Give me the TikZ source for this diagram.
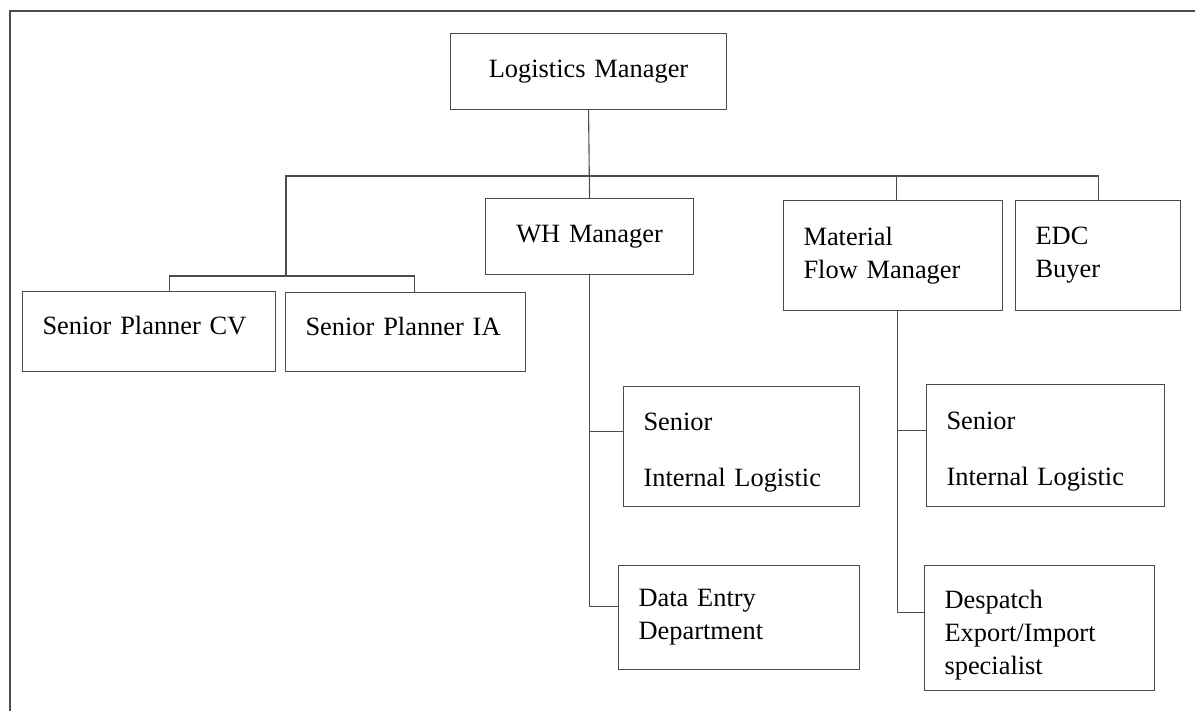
\documentclass[tikz,border=0pt]{standalone}
\usepackage{fontspec}
\setmainfont{Liberation Serif}
\tikzset{
	post/.style={
			draw=black!70, line width=1.1pt, anchor=north west, align=left,
			inner xsep=20pt, inner ysep=0pt,
			font=\fontsize{26.4}{33}\selectfont
		},
	link/.style={draw=black!70, line width=1.1pt}
}

\begin{document}
\begin{tikzpicture}[x=1pt,y=-1pt]
			\useasboundingbox (0,0) rectangle (1195,711);
			% Draw the frame
			\draw[link] (10,711) -- (10,11) -- (1195,11);
			% Top level
			\node[post, align=center, text width=236pt, minimum height=76pt] (lm) at (450,33) {Logistics Manager};
			\node[post, align=center, text width=168pt, minimum height=76pt] (wh) at (485,198) {WH Manager};
			\node[post, text width=213pt, minimum height=80pt, text depth=12pt] (spcv) at (22,291) {Senior Planner CV};
			\node[post, text width=200pt, minimum height=79pt, text depth=12pt] (spia) at (285,292) {Senior Planner IA};
			\node[post, text width=179pt, minimum height=110pt] (mfm) at (783,200) {Material\\Flow Manager};
			\node[post, text width=125pt, minimum height=110pt] (edc) at (1015,200) {EDC\\Buyer};
			% Staff
			\node[post, text width=196pt, minimum height=120pt] (silw) at (623,386) {\rule{0pt}{29pt}Senior\\[23pt]Internal Logistic};
			\node[post, text width=201pt, minimum height=104pt] (de) at (618,565) {Data Entry\\Department};
			\node[post, text width=198pt, minimum height=122pt] (silm) at (926,384) {\rule{0pt}{29pt}Senior\\[23pt]Internal Logistic};
			\node[post, text width=190pt, minimum height=125pt] (desp) at (924,565) {\rule{0pt}{32pt}Despatch\\Export/Import\\specialist};
			% Connectors
			\coordinate (top bus) at (286,176);
			\coordinate (plan bus) at (286,276);
			\coordinate (flow drop) at ([xshift=4.5pt]mfm.south);
			\draw[link] (lm.south) -- (wh.north);
			\draw[link] (plan bus) -- (top bus) -| (edc.north);
			\draw[link] ([xshift=3.5pt]mfm.north) -- ([xshift=3.5pt]mfm.north |- top bus);
			\draw[link] ([xshift=20.5pt]spcv.north) |- (plan bus) -| ([xshift=8.5pt]spia.north);
			\draw[link] (wh.south) |- ([yshift=11pt]de.west);
			\draw[link] ([yshift=15pt]silw.west) -- ([yshift=15pt]silw.west -| wh.south);
			\draw[link] (flow drop) |- ([yshift=15.5pt]desp.west);
			\draw[link] ([yshift=15pt]silm.west) -- ([yshift=15pt]silm.west -| flow drop);
		\end{tikzpicture}
\end{document}
